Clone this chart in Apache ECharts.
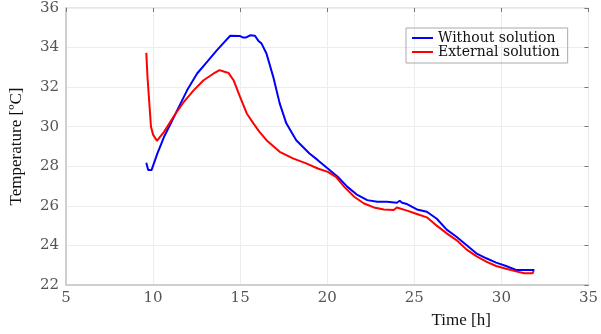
<!DOCTYPE html>
<html>
<head>
<meta charset="utf-8">
<script src="https://cdn.jsdelivr.net/npm/echarts@6/dist/echarts.min.js"></script>
<style>
html, body { margin: 0; padding: 0; background: #fff; }
#chart { width: 601px; height: 334px; }
</style>
</head>
<body>
<div id="chart"></div>
<script>
// time [h] and temperature [C]
var timeWithout = [9.61, 9.72, 9.91, 10.25, 10.63, 11.02, 11.39, 11.96, 12.53, 13.10, 13.67, 14.05, 14.43, 15.00, 15.15, 15.35, 15.57, 15.85, 16.04, 16.23, 16.51, 16.90, 17.27, 17.65, 18.22, 18.98, 19.46, 20.03, 20.60, 21.16, 21.73, 22.30, 22.87, 23.44, 24.00, 24.16, 24.30, 24.58, 25.15, 25.72, 26.29, 26.86, 27.42, 27.99, 28.56, 29.13, 29.70, 30.27, 30.84, 31.41, 31.90]
var tempWithout = [28.18, 27.81, 27.81, 28.65, 29.49, 30.17, 30.84, 31.85, 32.69, 33.28, 33.87, 34.24, 34.60, 34.58, 34.51, 34.51, 34.62, 34.60, 34.35, 34.20, 33.70, 32.52, 31.18, 30.17, 29.32, 28.65, 28.31, 27.89, 27.47, 26.96, 26.55, 26.29, 26.21, 26.21, 26.16, 26.26, 26.16, 26.09, 25.82, 25.70, 25.35, 24.80, 24.44, 24.02, 23.60, 23.35, 23.13, 22.96, 22.76, 22.76, 22.76]

var timeExternal = [9.61, 9.68, 9.76, 9.88, 10.00, 10.22, 10.63, 11.20, 11.77, 12.34, 12.90, 13.48, 13.82, 14.10, 14.33, 14.62, 15.00, 15.38, 15.76, 16.10, 16.51, 17.27, 18.03, 18.79, 19.46, 20.03, 20.50, 20.98, 21.55, 22.11, 22.68, 23.25, 23.82, 24.00, 24.58, 25.15, 25.72, 26.29, 26.86, 27.42, 27.99, 28.56, 29.13, 29.70, 30.27, 30.84, 31.31, 31.79, 31.85]
var tempExternal = [33.73, 32.50, 31.50, 30.00, 29.60, 29.29, 29.74, 30.54, 31.26, 31.85, 32.35, 32.69, 32.86, 32.78, 32.72, 32.35, 31.50, 30.67, 30.17, 29.75, 29.32, 28.73, 28.40, 28.15, 27.89, 27.72, 27.47, 26.96, 26.46, 26.12, 25.92, 25.82, 25.79, 25.92, 25.76, 25.59, 25.42, 25.00, 24.61, 24.27, 23.80, 23.46, 23.18, 22.96, 22.82, 22.69, 22.59, 22.59, 22.72]

var seriesNames = ['Without solution', 'External solution']

function pairs(xs, ys) {
	var out = []
	for (let i = 0; i < xs.length; i++) out.push([xs[i], ys[i]])
	return out
}

var mychart = echarts.init(document.getElementById('chart'))
var tickFont = { fontFamily: 'DejaVu Serif', fontSize: 15, color: '#555' }
var option = {
	animation: false,
	grid: { left: 66, right: 8, top: 8, bottom: 49, show: true, borderColor: '#cfcfcf', borderWidth: 1 },
	legend: {
		orient: 'vertical',
		left: 406, top: 28,
		icon: 'rect',
		itemWidth: 21, itemHeight: 2, itemGap: 0,
		padding: [3, 8, 4, 6],
		borderColor: '#aaa', borderWidth: 1,
		textStyle: { fontFamily: 'DejaVu Serif', fontSize: 14, lineHeight: 11, color: '#111' },
		data: seriesNames
	},
	xAxis: [{
		type: 'value', min: 5, max: 35, interval: 5,
		name: 'Time [h]', nameLocation: 'middle', nameGap: 27,
		nameTextStyle: { fontFamily: 'Liberation Serif', fontSize: 17, color: '#111', padding: [0, 0, 0, 268] },
		axisLine: { lineStyle: { color: '#cfcfcf', width: 2 } },
		axisTick: { show: false },
		axisLabel: Object.assign({ margin: 6 }, tickFont),
		splitLine: { lineStyle: { color: '#ececec' } }
	}, {
		type: 'value', min: 5, max: 35, interval: 5, position: 'top',
		axisLine: { show: false },
		axisTick: { inside: true, length: 4, lineStyle: { color: '#777' } },
		axisLabel: { show: false }, splitLine: { show: false }
	}],
	yAxis: [{
		type: 'value', min: 22, max: 36, interval: 2,
		name: 'Temperature [ºC]', nameLocation: 'middle', nameGap: 41,
		nameTextStyle: { fontFamily: 'Liberation Serif', fontSize: 17, color: '#111' },
		axisLine: { show: true, lineStyle: { color: '#cfcfcf', width: 2 } },
		axisTick: { show: false },
		axisLabel: Object.assign({ margin: 7 }, tickFont),
		splitLine: { lineStyle: { color: '#ececec' } }
	}, {
		type: 'value', min: 22, max: 36, interval: 2, position: 'right',
		axisLine: { show: false },
		axisTick: { inside: true, length: 4, lineStyle: { color: '#777' } },
		axisLabel: { show: false }, splitLine: { show: false }
	}],
	series: [{
		name: seriesNames[0], type: 'line', symbol: 'none',
		lineStyle: { color: '#0000ff', width: 2 }, itemStyle: { color: '#0000ff' },
		data: pairs(timeWithout, tempWithout)
	}, {
		name: seriesNames[1], type: 'line', symbol: 'none',
		lineStyle: { color: '#ff0000', width: 2 }, itemStyle: { color: '#ff0000' },
		data: pairs(timeExternal, tempExternal)
	}]
}
mychart.setOption(option)
</script>
</body>
</html>
